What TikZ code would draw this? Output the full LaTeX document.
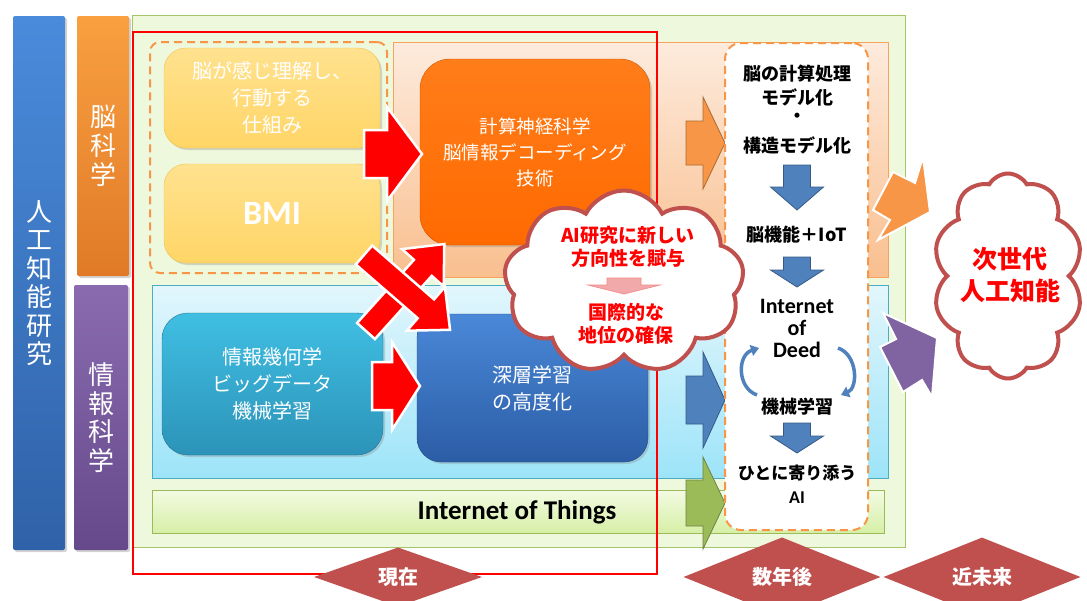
\documentclass[tikz,border=0pt]{standalone}
\usepackage{fontspec}
\setmainfont{Carlito}
\newfontfamily\jp{Noto Sans CJK JP}
\usetikzlibrary{shapes.symbols,shapes.geometric,arrows.meta,shadows}
\definecolor{blueT}{HTML}{4A8BDB}\definecolor{blueB}{HTML}{2F62A8}
\definecolor{orangeT}{HTML}{F9A040}\definecolor{orangeB}{HTML}{E07A28}
\definecolor{purpleT}{HTML}{8A6BB0}\definecolor{purpleB}{HTML}{65498A}
\definecolor{mainG}{HTML}{EEF8DD}\definecolor{mainBorder}{HTML}{A6C46A}
\definecolor{peachT}{HTML}{FDEBDD}\definecolor{peachB}{HTML}{F9BF8F}\definecolor{peachBorder}{HTML}{F7A15A}
\definecolor{cyanT}{HTML}{E2F6FC}\definecolor{cyanB}{HTML}{9DE4F9}\definecolor{cyanBorder}{HTML}{4BACC6}
\definecolor{iotT}{HTML}{F3FBE3}\definecolor{iotB}{HTML}{D6EFA6}\definecolor{iotBorder}{HTML}{9BBB59}
\definecolor{yelT}{HTML}{FFE28F}\definecolor{yelB}{HTML}{FFD566}\definecolor{yelBorder}{HTML}{F2C14E}
\definecolor{orgBoxT}{HTML}{FF7D1A}\definecolor{orgBoxB}{HTML}{FF6A00}
\definecolor{tealT}{HTML}{40BFE3}\definecolor{tealB}{HTML}{2C93B8}
\definecolor{dblueT}{HTML}{4A88D8}\definecolor{dblueB}{HTML}{2B5DA5}
\definecolor{cloudR}{HTML}{C0504D}
\definecolor{arrOrange}{HTML}{F79646}\definecolor{arrBlue}{HTML}{4F81BD}
\definecolor{arrGreen}{HTML}{9BBB59}\definecolor{arrPurple}{HTML}{8064A2}
\definecolor{pinkArr}{HTML}{F2A9A9}\definecolor{dashOr}{HTML}{F79646}
\tikzset{
  pics/barrow/.style args={#1/#2/#3/#4}{code={
    \path[pic actions] (0,#2) -- ({#1-#4},#2) -- ({#1-#4},#3) -- (#1,0)
      -- ({#1-#4},-#3) -- ({#1-#4},-#2) -- (0,-#2) -- cycle;}},
  bar/.style={rounded corners=2pt, inner sep=0pt, text=white, align=center,
     drop shadow={opacity=0.35,shadow xshift=2pt,shadow yshift=-2pt}},
  panel/.style={inner sep=0pt},
  rbox/.style={rounded corners=22pt, inner sep=0pt, text=white, align=center,
     drop shadow={opacity=0.3,shadow xshift=2pt,shadow yshift=-2pt}},
  jpw/.style={font=\jp\fontsize{20}{27}\selectfont},
  jpb/.style={font=\jp\bfseries\fontsize{18}{22}\selectfont, text=black, align=center, inner sep=0pt},
  deed/.style={font=\bfseries\fontsize{22}{22}\selectfont, inner sep=0pt},
  redarr/.style={fill=red, draw=white, line width=2.5pt, line join=miter},
  blkarr/.style={line width=0.8pt, line join=miter},
  redtxt/.style={font=\jp\bfseries\fontsize{19}{23}\selectfont, text=red, align=center, inner sep=0pt},
  era/.style={diamond, fill=cloudR, inner sep=0pt, text=white,
     font=\jp\bfseries\fontsize{20}{22}\selectfont},
  bubble/.style={cloud, cloud ignores aspect, draw=cloudR, line width=4pt, fill=white},
}
\begin{document}
\begin{tikzpicture}[x=1pt,y=-1pt]
\useasboundingbox (0,0) rectangle (1087,600);
% left bars
\node[bar, top color=blueT, bottom color=blueB, minimum width=52, minimum height=534,
  font=\jp\fontsize{26}{28.4}\selectfont] (ai) at (39,283) {人\\工\\知\\能\\研\\究};
\node[bar, top color=orangeT, bottom color=orangeB, minimum width=52, minimum height=260,
  font=\jp\fontsize{26}{29.3}\selectfont] (brain) at (103,146) {脳\\科\\学};
\node[bar, top color=purpleT, bottom color=purpleB, minimum width=54, minimum height=265,
  font=\jp\fontsize{26}{28.7}\selectfont] (info) at (101,417.5) {情\\報\\科\\学};
% main panel
\node[panel, fill=mainG, draw=mainBorder, line width=1pt, minimum width=773, minimum height=532] (main) at (518.5,281) {};
\node[panel, top color=peachT, bottom color=peachB, draw=peachBorder, line width=0.8pt,
  minimum width=495, minimum height=235] (peach) at (640.5,159.5) {};
\node[panel, top color=cyanT, bottom color=cyanB, draw=cyanBorder, line width=0.8pt,
  minimum width=736, minimum height=193] (cyanp) at (520,381.5) {};
\node[panel, top color=iotT, bottom color=iotB, draw=iotBorder, line width=0.8pt,
  minimum width=732, minimum height=43] (iot) at (518,511.5) {};
\node[font=\bfseries\fontsize{27}{30}\selectfont, inner sep=0pt] (iottext) at (517,512) {Internet of Things};
% dashed brain group
\node[panel, draw=dashOr, line width=2pt, dash pattern=on 8pt off 5pt, rounded corners=10pt,
  minimum width=237, minimum height=231] (bgroup) at (268.5,157.5) {};
% boxes
\node[rbox, top color=yelT, bottom color=yelB, draw=yelBorder, minimum width=216, minimum height=100, jpw] (mech) at (272,98) {脳が感じ理解し、\\行動する\\仕組み};
\node[rbox, top color=yelT, bottom color=yelB, draw=yelBorder, minimum width=216, minimum height=99,
  font=\bfseries\fontsize{34}{36}\selectfont] (bmi) at (272,213.5) {BMI};
\node[rbox, rounded corners=30pt, top color=orgBoxT, bottom color=orgBoxB, draw=orgBoxB!80!black, minimum width=230, minimum height=186,
  font=\jp\fontsize{18.5}{26}\selectfont] (comp) at (535,152) {計算神経科学\\脳情報デコーディング\\技術};
\node[rbox, rounded corners=26pt, top color=tealT, bottom color=tealB, draw=tealB!80!black, minimum width=221, minimum height=142, jpw] (geo) at (272.5,384) {情報幾何学\\ビッグデータ\\機械学習};
\node[rbox, rounded corners=24pt, top color=dblueT, bottom color=dblueB, draw=dblueB!80!black, minimum width=231, minimum height=148, jpw] (deep) at (532.5,388) {深層学習\\の高度化};
% red frame (present)
\node[panel, draw=red, line width=1.6pt, minimum width=524, minimum height=542] (present) at (395,303) {};
% right block arrows
\pic[blkarr, fill=arrOrange, draw=arrOrange!70!black] at (686,143) {barrow=39/22/46/22};
\pic[blkarr, fill=arrBlue, draw=arrBlue!70!black] at (686,400) {barrow=39/24/48/22};
\pic[blkarr, fill=arrGreen, draw=arrGreen!70!black] at (686,503) {barrow=39/23/46/22};
% future box
\node[panel, draw=dashOr, fill=white, line width=2pt, dash pattern=on 8pt off 5pt, rounded corners=16pt,
  minimum width=143, minimum height=487] (future) at (796.5,286.5) {};
\node[jpb] (f1) at (797,74) {脳の計算処理};
\node[jpb] (f2) at (797,97) {モデル化};
\node[jpb] (f3) at (797,118) {・};
\node[jpb] (f4) at (797,145) {構造モデル化};
\pic[blkarr, fill=arrBlue, draw=arrBlue!70!black, rotate=-90] at (797,165) {barrow=45/13.5/26.5/23};
\node[jpb] (f5) at (797,235) {脳機能＋IoT};
\pic[blkarr, fill=arrBlue, draw=arrBlue!70!black, rotate=-90] at (797,257) {barrow=30/13.5/26.5/17};
\node[deed] (iod1) at (797,306) {Internet};
\node[deed] (iod2) at (797,328) {of};
\node[deed] (iod3) at (797,350) {Deed};
\coordinate (l1) at (757,395); \coordinate (l2) at (759,348);
\coordinate (r1) at (838,348); \coordinate (r2) at (841,395);
\draw[arrBlue, line width=3.5pt, -{Triangle[length=8pt,width=11pt]}] (l1) .. controls (737,388) and (737,355) .. (l2);
\draw[arrBlue, line width=3.5pt, -{Triangle[length=8pt,width=11pt]}] (r1) .. controls (858,355) and (858,388) .. (r2);
\node[jpb] (f6) at (797,407) {機械学習};
\pic[blkarr, fill=arrBlue, draw=arrBlue!70!black, rotate=-90] at (797,423) {barrow=30/13.5/26.5/17};
\node[jpb, font=\jp\bfseries\fontsize{17}{20}\selectfont] (f7) at (797,473) {ひとに寄り添う};
\node[font=\bfseries\fontsize{18}{20}\selectfont, inner sep=0pt] (f8) at (797,498) {AI};
% central cloud
\node[bubble, cloud puffs=9, cloud puff arc=125, minimum width=240, minimum height=183] (c1) at (624,282) {};
\node[redtxt] (c1a) at (628,247) {AI研究に新しい\\方向性を賦与};
\pic[fill=pinkArr, draw=pinkArr!80!red, line width=0.6pt, rotate=-90] at (624,278) {barrow=16/17/36/9};
\node[redtxt] (c1b) at (626,323.5) {国際的な\\地位の確保};
% red arrows
\pic[redarr] at (364,154) {barrow=58/24/47/35};
\pic[redarr] at (372,386) {barrow=48/24/44/28};
\pic[redarr, rotate=48] at (366,331) {barrow=117/12/28/32};
\pic[redarr, rotate=-41] at (364,255) {barrow=114/12.5/29/32};
% diagonal arrows to next-gen AI
\path[fill=arrOrange, draw=white, line width=2pt, line join=miter]
  (873,210) -- (893,172) -- (915,183) -- (923,157) -- (930,212) -- (878,240) -- (890,220) -- cycle;
\path[fill=arrPurple, draw=white, line width=2pt, line join=miter]
  (883,313) -- (937,338) -- (932,397) -- (922,380) -- (903,392) -- (880,347) -- (896,339) -- cycle;
% next-generation AI cloud
\node[bubble, cloud puffs=10, cloud puff arc=120, minimum width=150, minimum height=205] (c2) at (1008,276) {};
\node[redtxt, font=\jp\bfseries\fontsize{25}{32}\selectfont] (c2t) at (1010,275) {次世代\\人工知能};
% eras
\node[era, minimum width=168, minimum height=54] (now) at (398,577) {現在};
\node[era, minimum width=197, minimum height=54] (soon) at (782,577) {数年後};
\node[era, minimum width=197, minimum height=54] (near) at (982,577) {近未来};
\end{tikzpicture}
\end{document}
